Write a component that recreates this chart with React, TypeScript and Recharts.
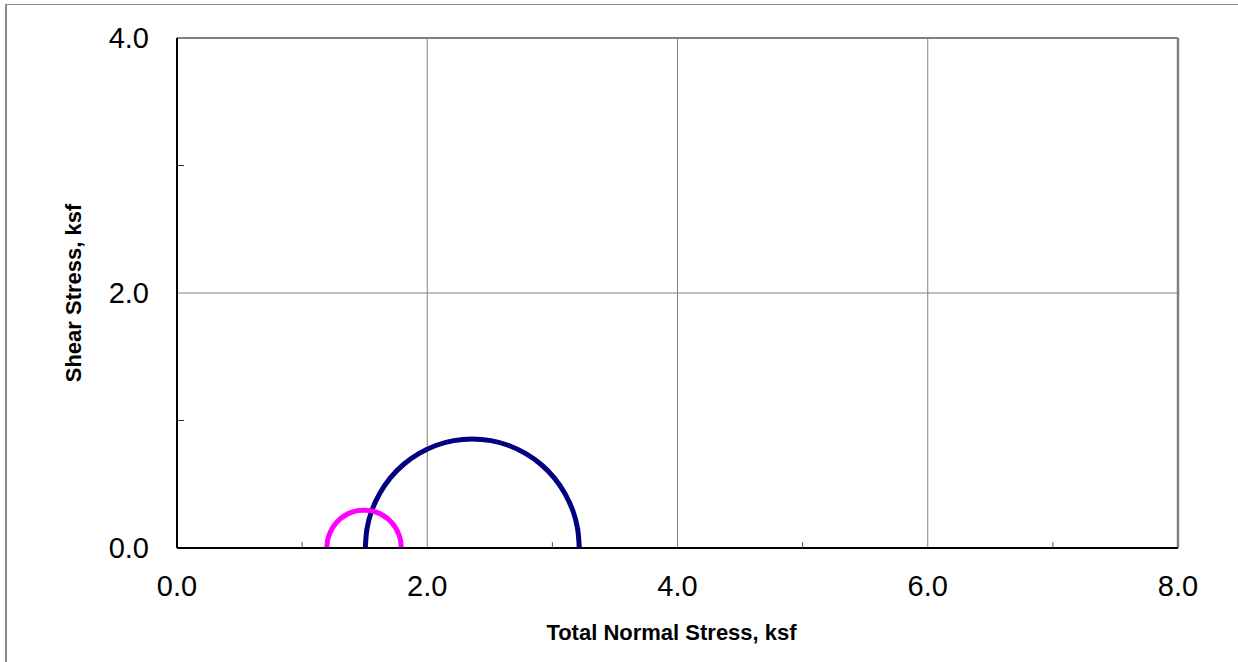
import React from 'react';
import { ComposedChart, XAxis, YAxis, Line, ReferenceLine } from 'recharts';

// Axis ticks (major ticks get labels, minor ticks get a small inside mark)
const xTicks = [0, 1, 2, 3, 4, 5, 6, 7, 8];
const xMajorTicks = [0, 2, 4, 6, 8];
const yTicks = [0, 1, 2, 3, 4];
const yMajorTicks = [0, 2, 4];
const xGrid = [2, 4, 6];
const yGrid = [2];

// Mohr circle 1 (navy), normal stress / shear stress
const navyX = [1.505, 1.518, 1.556, 1.62, 1.705, 1.81, 1.932, 2.068, 2.211, 2.36, 2.509, 2.652, 2.788, 2.91, 3.015, 3.1, 3.164, 3.202, 3.215];
const navyY = [0, 0.149, 0.292, 0.428, 0.55, 0.655, 0.74, 0.804, 0.842, 0.855, 0.842, 0.804, 0.74, 0.655, 0.55, 0.428, 0.292, 0.149, 0];

// Mohr circle 2 (magenta)
const magX = [1.198, 1.202, 1.216, 1.238, 1.267, 1.304, 1.346, 1.393, 1.443, 1.495, 1.547, 1.597, 1.644, 1.686, 1.723, 1.752, 1.774, 1.788, 1.792];
const magY = [0, 0.052, 0.102, 0.149, 0.191, 0.228, 0.257, 0.279, 0.293, 0.297, 0.293, 0.279, 0.257, 0.228, 0.191, 0.149, 0.102, 0.052, 0];

const navyData = navyX.map((x, i) => ({ x, y: navyY[i] }));
const magData = magX.map((x, i) => ({ x, y: magY[i] }));

const FONT = '"Liberation Sans", Arial, sans-serif';
const X_MARGIN = 27;
const Y_MARGIN = 28;

const XTick = (props: any) => {
  const { x, y, payload } = props;
  const v = Number(payload.value);
  if (!xMajorTicks.includes(v)) {
    const ay = y - X_MARGIN;
    return <line x1={x} y1={ay} x2={x} y2={ay - 6} stroke="#555" strokeWidth={1} />;
  }
  return (
    <text x={x} y={y} dy="0.71em" textAnchor="middle" fontFamily={FONT} fontSize={29} fill="#000">
      {v.toFixed(1)}
    </text>
  );
};

const YTick = (props: any) => {
  const { x, y, payload } = props;
  const v = Number(payload.value);
  if (!yMajorTicks.includes(v)) {
    const ax = x + Y_MARGIN;
    return <line x1={ax} y1={y} x2={ax + 7} y2={y} stroke="#333" strokeWidth={1} />;
  }
  return (
    <text x={x} y={y} dy="0.355em" textAnchor="end" fontFamily={FONT} fontSize={29} fill="#000">
      {v.toFixed(1)}
    </text>
  );
};

export default function App() {
  return (
    <div style={{ position: 'absolute', left: 0, top: 0, width: 1238, height: 662, background: '#fff', overflow: 'hidden' }}>
      <div
        style={{
          position: 'absolute',
          left: 5,
          top: 4,
          width: 1300,
          height: 700,
          borderLeft: '2px solid #8a8a8a',
          borderTop: '1px solid #8a8a8a',
        }}
      />
      <div style={{ position: 'absolute', left: 0, top: 0 }}>
        <ComposedChart width={1238} height={662} margin={{ top: 38, right: 60, bottom: 0, left: 0 }}>
          <XAxis
            type="number"
            dataKey="x"
            domain={[0, 8]}
            ticks={xTicks}
            interval={0}
            allowDataOverflow
            height={114}
            tickSize={0}
            tickMargin={X_MARGIN}
            tickLine={false}
            axisLine={{ stroke: '#000', strokeWidth: 2 }}
            tick={<XTick />}
            label={{
              content: (p: any) => {
                const vb = p.viewBox;
                return (
                  <text x={vb.x + vb.width / 2 - 6} y={vb.y + 92} textAnchor="middle" fontFamily={FONT} fontWeight="bold" fontSize={22} fill="#000">
                    Total Normal Stress, ksf
                  </text>
                );
              },
            }}
          />
          <YAxis
            type="number"
            dataKey="y"
            domain={[0, 4]}
            ticks={yTicks}
            interval={0}
            allowDataOverflow
            width={177}
            tickSize={0}
            tickMargin={Y_MARGIN}
            tickLine={false}
            axisLine={{ stroke: '#000', strokeWidth: 2 }}
            tick={<YTick />}
            label={{
              content: (p: any) => {
                const vb = p.viewBox;
                const cx = 81;
                const cy = vb.y + vb.height / 2;
                return (
                  <text x={cx} y={cy} transform={`rotate(-90, ${cx}, ${cy})`} textAnchor="middle" fontFamily={FONT} fontWeight="bold" fontSize={22} fill="#000">
                    Shear Stress, ksf
                  </text>
                );
              },
            }}
          />
          {xGrid.map((v) => (
            <ReferenceLine key={'gx' + v} x={v} stroke="#808080" strokeWidth={1} />
          ))}
          {yGrid.map((v) => (
            <ReferenceLine key={'gy' + v} y={v} stroke="#808080" strokeWidth={1} />
          ))}
          <ReferenceLine y={4} stroke="#808080" strokeWidth={2} />
          <ReferenceLine x={8} stroke="#808080" strokeWidth={2.5} />
          <Line
            data={navyData}
            dataKey="y"
            type="natural"
            stroke="#000080"
            strokeWidth={5}
            dot={false}
            activeDot={false}
            isAnimationActive={false}
          />
          <Line
            data={magData}
            dataKey="y"
            type="natural"
            stroke="#FF00FF"
            strokeWidth={5}
            dot={false}
            activeDot={false}
            isAnimationActive={false}
          />
        </ComposedChart>
      </div>
    </div>
  );
}
